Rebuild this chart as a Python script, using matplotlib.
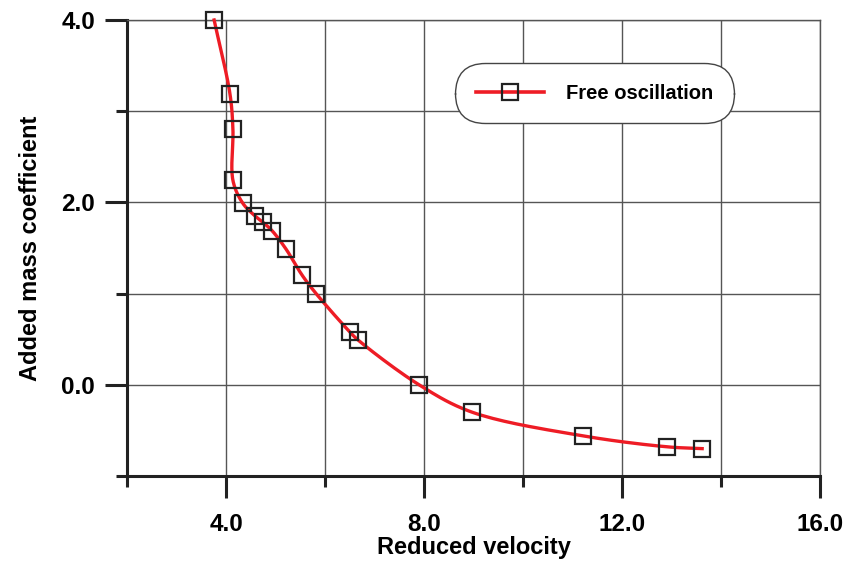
import numpy as np
import matplotlib
matplotlib.use('Agg')
import matplotlib.pyplot as plt
from matplotlib.ticker import MultipleLocator

plt.rcParams['font.family'] = ['Liberation Sans', 'DejaVu Sans']
plt.rcParams['font.weight'] = 'bold'

# Data
reduced_velocity = [3.76, 4.08, 4.14, 4.14, 4.34, 4.59, 4.75, 4.93, 5.21, 5.54,
                    5.82, 6.50, 6.67, 7.90, 8.97, 11.21, 12.91, 13.62]
added_mass = [4.00, 3.19, 2.80, 2.24, 1.99, 1.85, 1.78, 1.69, 1.49, 1.20,
              1.00, 0.58, 0.49, 0.00, -0.30, -0.56, -0.68, -0.70]


def catmull_rom(x, y, n=20, alpha=0.5):
    """Centripetal Catmull-Rom curve through the points (for the smooth line)."""
    pts = np.column_stack([x, y]).astype(float)
    # scale so both axes count in comparable screen units
    scale = np.array([49.5, 91.0])
    p = pts * scale
    p = np.vstack([2 * p[0] - p[1], p, 2 * p[-1] - p[-2]])
    out = []
    for i in range(1, len(p) - 2):
        p0, p1, p2, p3 = p[i - 1], p[i], p[i + 1], p[i + 2]
        t0 = 0.0
        t1 = t0 + max(np.linalg.norm(p1 - p0), 1e-6) ** alpha
        t2 = t1 + max(np.linalg.norm(p2 - p1), 1e-6) ** alpha
        t3 = t2 + max(np.linalg.norm(p3 - p2), 1e-6) ** alpha
        t = np.linspace(t1, t2, n)[:, None]
        a1 = (t1 - t) / (t1 - t0) * p0 + (t - t0) / (t1 - t0) * p1
        a2 = (t2 - t) / (t2 - t1) * p1 + (t - t1) / (t2 - t1) * p2
        a3 = (t3 - t) / (t3 - t2) * p2 + (t - t2) / (t3 - t2) * p3
        b1 = (t2 - t) / (t2 - t0) * a1 + (t - t0) / (t2 - t0) * a2
        b2 = (t3 - t) / (t3 - t1) * a2 + (t - t1) / (t3 - t1) * a3
        c = (t2 - t) / (t2 - t1) * b1 + (t - t1) / (t2 - t1) * b2
        out.append(c if i == 1 else c[1:])
    curve = np.vstack(out) / scale
    return curve[:, 0], curve[:, 1]


fig = plt.figure(figsize=(8.49, 5.71), dpi=100)
ax = fig.add_axes([0.1496, 0.1664, 0.8162, 0.7986])

red = '#ee1c25'
cx, cy = catmull_rom(reduced_velocity, added_mass)
ax.plot(cx, cy, color=red, lw=2.4, zorder=3, clip_on=False)
ax.plot(reduced_velocity, added_mass, ls='none', marker='s', ms=11.5,
        mfc='none', mec='#222222', mew=1.6, zorder=4, clip_on=False)
# legend proxy
ax.plot([], [], color=red, lw=2.6, marker='s', ms=12, mfc='none',
        mec='#222222', mew=1.6, label='Free oscillation')

ax.set_xlim(2, 16)
ax.set_ylim(-1, 4)
ax.xaxis.set_minor_locator(MultipleLocator(2))
ax.yaxis.set_minor_locator(MultipleLocator(1))
ax.set_xticks([4, 8, 12, 16])
ax.set_yticks([0, 2, 4])
ax.xaxis.set_major_formatter(plt.FormatStrFormatter('%.1f'))
ax.yaxis.set_major_formatter(plt.FormatStrFormatter('%.1f'))

ax.grid(True, which='both', color='#555555', lw=1.0)
ax.set_axisbelow(True)

for s in ['left', 'bottom']:
    ax.spines[s].set_linewidth(2.2)
    ax.spines[s].set_color('#222222')
for s in ['top', 'right']:
    ax.spines[s].set_linewidth(1.0)
    ax.spines[s].set_color('#555555')

ax.tick_params(which='major', length=16, width=2.2, color='#222222',
               labelsize=17.5, pad=7)
ax.tick_params(axis='x', which='major', pad=11)
ax.tick_params(which='minor', length=8, width=2.2, color='#222222')

ax.set_xlabel('Reduced velocity', fontsize=17, fontweight='bold', labelpad=0)
ax.set_ylabel('Added mass coefficient', fontsize=17, fontweight='bold', labelpad=14)

leg = ax.legend(loc='center', bbox_to_anchor=(0.675, 0.839), fontsize=14.5,
                handlelength=3.4, handletextpad=1.1, borderpad=0.9,
                borderaxespad=0, fancybox=True, framealpha=1,
                edgecolor='#444444')
leg.get_frame().set_boxstyle('round,pad=0.12,rounding_size=1.5')
leg.get_frame().set_linewidth(1.0)
for t in leg.get_texts():
    t.set_fontweight('bold')

fig.savefig('out.png', dpi=100)
